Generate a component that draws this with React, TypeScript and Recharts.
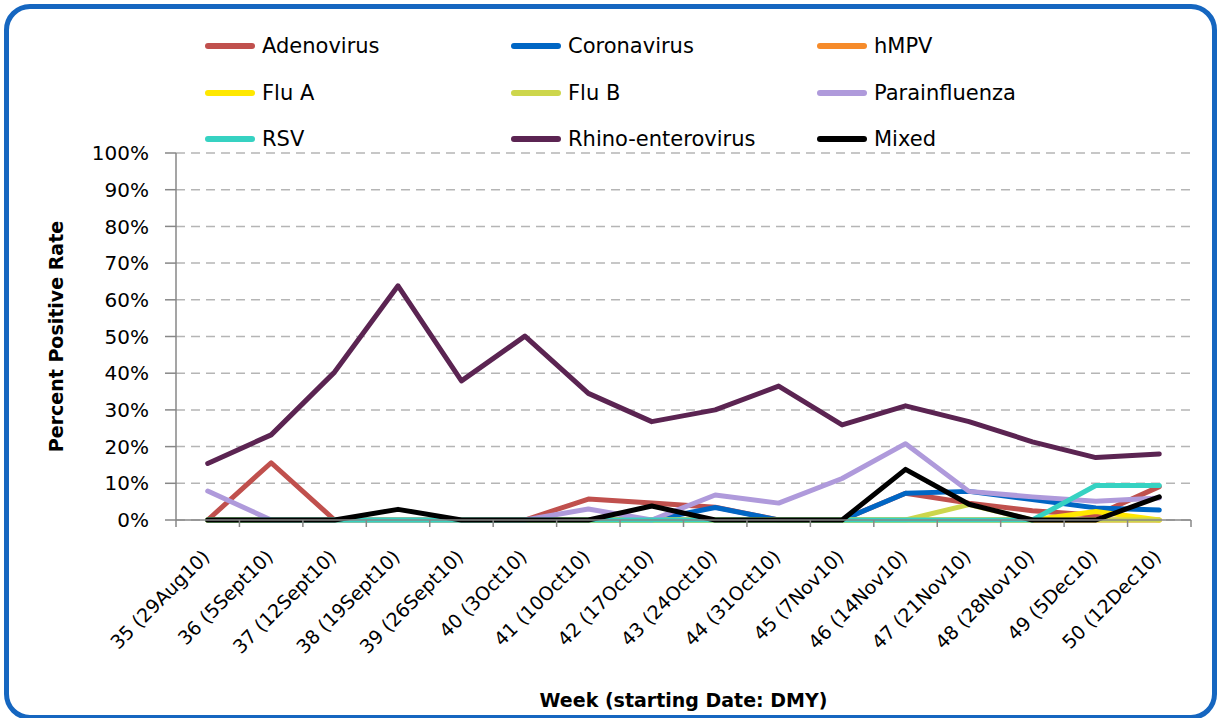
import React from "react";
import { LineChart, Line, XAxis, YAxis, CartesianGrid, Legend, Label } from "recharts";

const weeks = [
  "35 (29Aug10)", "36 (5Sept10)", "37 (12Sept10)", "38 (19Sept10)",
  "39 (26Sept10)", "40 (3Oct10)", "41 (10Oct10)", "42 (17Oct10)",
  "43 (24Oct10)", "44 (31Oct10)", "45 (7Nov10)", "46 (14Nov10)",
  "47 (21Nov10)", "48 (28Nov10)", "49 (5Dec10)", "50 (12Dec10)",
];

// percent positive, one value per week
const adenovirus = [0, 15.6, 0, 0, 0, 0, 5.7, 4.6, 3.5, 0, 0, 7.3, 4.6, 2.5, 1.3, 9.1];
const coronavirus = [0, 0, 0, 0, 0, 0, 0, 0, 3.4, 0, 0, 7.3, 7.8, 5.6, 3.3, 2.7];
const hmpv = [0, 0, 0, 0, 0, 0, 0, 0, 0, 0, 0, 0, 0, 0, 0, 0];
const fluA = [0, 0, 0, 0, 0, 0, 0, 0, 0, 0, 0, 0, 0, 0, 2.3, 0];
const fluB = [0, 0, 0, 0, 0, 0, 0, 0, 0, 0, 0, 0, 4.2, 0, 0, 0];
const parainfluenza = [7.9, 0, 0, 0, 0, 0, 3.0, 0, 6.8, 4.6, 11.3, 20.8, 7.8, 6.3, 5.1, 6.0];
const rsv = [0, 0, 0, 0, 0, 0, 0, 0, 0, 0, 0, 0, 0, 0, 9.4, 9.4];
const rhino = [15.4, 23.2, 40.3, 63.8, 37.9, 50.1, 34.5, 26.8, 30.0, 36.5, 25.9, 31.1, 26.8, 21.3, 17.0, 18.0];
const mixed = [0, 0, 0, 2.9, 0, 0, 0, 3.8, 0, 0, 0, 13.8, 4.3, 0, 0, 6.3];

const yTicks = [0, 10, 20, 30, 40, 50, 60, 70, 80, 90, 100];

const series = [
  { key: "adenovirus", name: "Adenovirus", color: "#C0504D", values: adenovirus },
  { key: "coronavirus", name: "Coronavirus", color: "#0066C4", values: coronavirus },
  { key: "hmpv", name: "hMPV", color: "#F68B2A", values: hmpv },
  { key: "fluA", name: "Flu A", color: "#FFE800", values: fluA },
  { key: "fluB", name: "Flu B", color: "#CDD64C", values: fluB },
  { key: "parainfluenza", name: "Parainfluenza", color: "#AF9ADB", values: parainfluenza },
  { key: "rsv", name: "RSV", color: "#36D2C2", values: rsv },
  { key: "rhino", name: "Rhino-enterovirus", color: "#5B2452", values: rhino },
  { key: "mixed", name: "Mixed", color: "#000000", values: mixed },
];

const data = weeks.map((week, i) => {
  const row: Record<string, number | string> = { pos: i + 0.5, week };
  series.forEach((s) => (row[s.key] = s.values[i]));
  return row;
});

const edgeTicks = weeks.map((_, i) => i).concat(weeks.length);

const W = 1218;
const H = 718;
const M = { top: 153, right: 27, bottom: 0, left: 0 };
const Y_W = 176;
const BAND = (W - M.left - M.right - Y_W) / weeks.length;
const AXIS = "#878787";

function WeekTick({ x, y, payload }: any) {
  const label = weeks[payload.value];
  if (!label) return <g />;
  const ax = x + BAND / 2 + 3;
  const ay = y + 29;
  return (
    <text x={ax} y={ay} textAnchor="end" fontSize={19} fill="#000" transform={`rotate(-45, ${ax}, ${ay})`}>
      {label}
    </text>
  );
}

function LegendBox() {
  return (
    <div style={{ display: "grid", gridTemplateColumns: "306px 306px 306px", fontFamily: "DejaVu Sans", fontSize: 21 }}>
      {series.map((s) => (
        <div key={s.key} style={{ display: "flex", alignItems: "center", height: 46.5 }}>
          <span style={{ width: 50, height: 6, borderRadius: 3, background: s.color, marginRight: 7 }} />
          <span>{s.name}</span>
        </div>
      ))}
    </div>
  );
}

export default function App() {
  return (
    <div style={{ position: "absolute", left: 0, top: 0, width: W, height: H, background: "#fff", fontFamily: "DejaVu Sans", overflow: "hidden" }}>
      <div
        style={{
          position: "absolute", left: 4, top: 4, width: 1213, height: 716, boxSizing: "border-box",
          border: "5px solid #1566C0", borderRadius: 26,
        }}
      />
      <div style={{ position: "absolute", left: 0, top: 0 }}>
        <LineChart width={W} height={H} data={data} margin={M}>
          <CartesianGrid vertical={false} stroke="#B5B5B5" strokeWidth={1.5} strokeDasharray="9 6" />
          <XAxis
            dataKey="pos"
            type="number"
            domain={[0, weeks.length]}
            ticks={edgeTicks}
            interval={0}
            height={198}
            tickSize={7}
            tickMargin={2}
            stroke={AXIS}
            strokeWidth={1.5}
            tick={<WeekTick />}
          >
            <Label
              content={({ viewBox }: any) => (
                <text x={viewBox.x + viewBox.width / 2} y={707} textAnchor="middle" fontSize={19} fontWeight="bold" fill="#000">
                  Week (starting Date: DMY)
                </text>
              )}
            />
          </XAxis>
          <YAxis
            width={Y_W}
            domain={[0, 100]}
            ticks={yTicks}
            interval={0}
            tickFormatter={(v) => `${v}%`}
            tickSize={11}
            tickMargin={16}
            stroke={AXIS}
            strokeWidth={1.5}
            tick={{ fill: "#000", fontSize: 20 }}
          >
            <Label
              content={({ viewBox }: any) => {
                const cx = 56;
                const cy = viewBox.y + viewBox.height / 2;
                return (
                  <text x={cx} y={cy} textAnchor="middle" dominantBaseline="central" fontSize={19} fontWeight="bold" fill="#000" transform={`rotate(-90, ${cx}, ${cy})`}>
                    Percent Positive Rate
                  </text>
                );
              }}
            />
          </YAxis>
          <Legend
            layout="vertical"
            align="center"
            verticalAlign="middle"
            content={() => <LegendBox />}
            wrapperStyle={{ top: 23, left: 205, width: 930 }}
          />
          {series.map((s) => (
            <Line
              key={s.key}
              dataKey={s.key}
              name={s.name}
              type="linear"
              stroke={s.color}
              strokeWidth={5}
              strokeLinejoin="round"
              strokeLinecap="round"
              dot={false}
              activeDot={false}
              isAnimationActive={false}
            />
          ))}
        </LineChart>
      </div>
    </div>
  );
}
